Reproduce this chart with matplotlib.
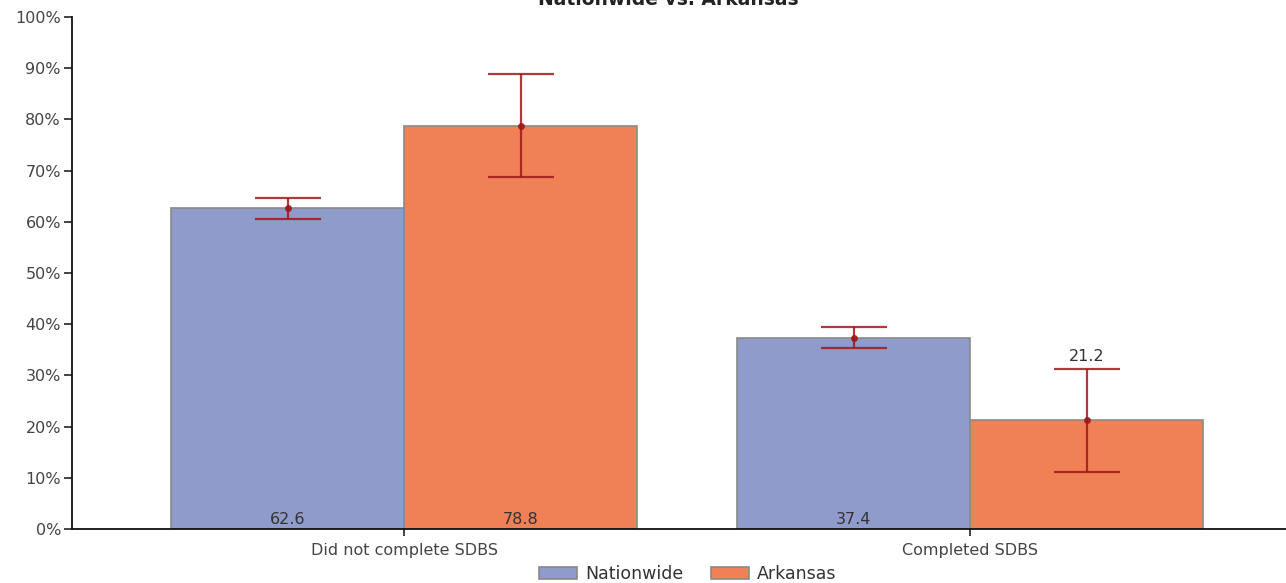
import matplotlib
matplotlib.use("Agg")
import matplotlib.pyplot as plt
import numpy as np
from matplotlib.ticker import PercentFormatter

categories = ["Did not complete SDBS", "Completed SDBS"]
series_names = ["Nationwide", "Arkansas"]
nationwide = [62.6, 37.4]
arkansas = [78.8, 21.2]
nationwide_err = [2.1, 2.1]
arkansas_err = [10.0, 10.0]

colors = ["#8f9bcb", "#f08157"]
err_color = "#a01818"

plt.rcParams["font.family"] = ["DejaVu Sans"]

fig = plt.figure(figsize=(12.86, 5.83), dpi=100)
ax = fig.add_axes([72 / 1286, 54 / 583, 1 - 72 / 1286, (529 - 17) / 583])

x = np.arange(len(categories))
width = 0.412
values = [nationwide, arkansas]
errors = [nationwide_err, arkansas_err]
offsets = [-width / 2, width / 2]

for vals, errs, off, col, name in zip(values, errors, offsets, colors, series_names):
    pos = x + off
    ax.bar(pos, vals, width=width, color=col, edgecolor="#8a8a8a",
           linewidth=1.2, label=name, zorder=2)
    ax.errorbar(pos, vals, yerr=errs, fmt="o", markersize=4,
                color=err_color, ecolor=err_color, elinewidth=1.6,
                capsize=24, capthick=1.6, alpha=0.85, zorder=3)
    for p, v, e in zip(pos, vals, errs):
        # small bars get their label above the error bar
        if v - e < 15:
            ax.text(p, v + e + 1.0, f"{v:.1f}", ha="center", va="bottom",
                    fontsize=11.5, color="#333333", zorder=4)
        else:
            ax.text(p, 0.3, f"{v:.1f}", ha="center", va="bottom",
                    fontsize=11.5, color="#333333", zorder=4)

ax.set_xlim(-0.587, 1.558)
ax.set_ylim(0, 100)
ax.set_yticks(np.arange(0, 101, 10))
ax.yaxis.set_major_formatter(PercentFormatter(decimals=0))
ax.set_xticks(x)
ax.set_xticklabels(categories)
ax.tick_params(axis="both", labelsize=11.5, labelcolor="#444444",
               color="#222222", length=6, width=1.2)
ax.tick_params(axis="x", pad=5, length=5)
ax.tick_params(axis="y", pad=2)
for side in ["top", "right"]:
    ax.spines[side].set_visible(False)
for side in ["left", "bottom"]:
    ax.spines[side].set_linewidth(1.3)
    ax.spines[side].set_color("#111111")

fig.text(668 / 1286, (583 - 5) / 583, "Nationwide vs. Arkansas",
         ha="center", va="baseline", fontsize=13.5, fontweight="bold",
         color="#222222")

handles, labels = ax.get_legend_handles_labels()
fig.legend(handles, labels, loc="center", bbox_to_anchor=(688 / 1286, 9 / 583),
           ncol=2, frameon=False, fontsize=12.5, handlelength=2.2,
           handleheight=0.7, columnspacing=1.6, handletextpad=0.45,
           labelcolor="#333333")

fig.savefig("out.png", dpi=100)
